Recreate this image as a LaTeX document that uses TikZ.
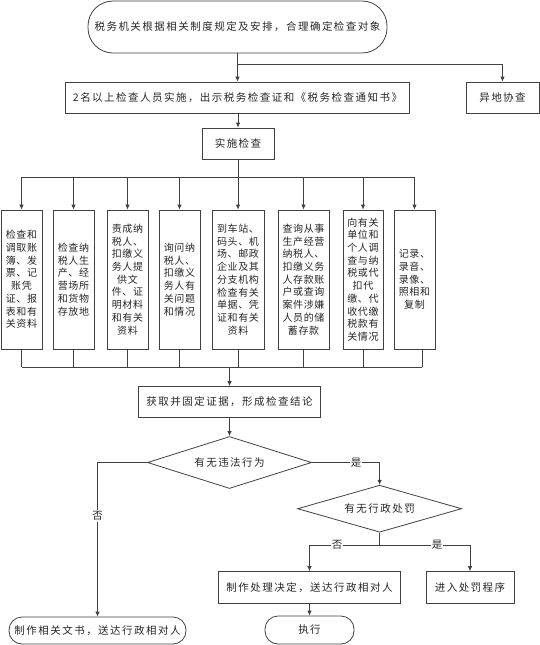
\documentclass[tikz,border=0pt]{standalone}
\usepackage{fontspec}
\setmainfont{Noto Sans CJK SC}
\newfontfamily\mtf[LetterSpace=14]{Noto Sans CJK SC}
\newfontfamily\btf[LetterSpace=6]{Noto Sans CJK SC}
\usetikzlibrary{arrows.meta,shapes.geometric}
\begin{document}
\begin{tikzpicture}[x=1pt,y=-1pt,
 line/.style={draw=black!75, line width=0.8pt},
 arr/.style={line, -{Latex[length=5pt,width=4.5pt]}},
 box/.style={draw=black!75, line width=0.8pt, text=black!85, inner sep=0pt, font=\mtf\fontsize{10.5}{13}\selectfont},
 vbox/.style={box, minimum height=139pt, align=center, font=\btf\fontsize{10}{12.7}\selectfont},
 term/.style={box, rounded corners=13pt},
 dia/.style={box, shape=diamond, aspect=3},
 lab/.style={fill=white, inner sep=1pt, text=black!85, font=\mtf\fontsize{10.5}{13}\selectfont}]
\useasboundingbox (0,0) rectangle (540,645);
% nodes
\node[term, rounded corners=25pt, minimum width=299pt, minimum height=52pt] (top) at (237.5,27) {税务机关根据相关制度规定及安排，合理确定检查对象};
\node[box, minimum width=344pt, minimum height=31pt] (n2) at (237.5,97.5) {2名以上检查人员实施，出示税务检查证和《税务检查通知书》};
\node[box, minimum width=73pt, minimum height=31pt] (yd) at (502.5,97.5) {异地协查};
\node[box, minimum width=72pt, minimum height=31pt] (ss) at (238,143.5) {实施检查};
\node[vbox, minimum width=41pt] (b1) at (21.5,279.5) {检查和\\调取账\\簿、发\\票、记\\账凭\\证、报\\表和有\\关资料};
\node[vbox, minimum width=41pt] (b2) at (73.5,279.5) {检查纳\\税人生\\产、经\\营场所\\和货物\\存放地};
\node[vbox, minimum width=41pt] (b3) at (127.5,279.5) {责成纳\\税人、\\扣缴义\\务人提\\供文\\件、证\\明材料\\和有关\\资料};
\node[vbox, minimum width=41pt] (b4) at (179.5,279.5) {询问纳\\税人、\\扣缴义\\务人有\\关问题\\和情况};
\node[vbox, minimum width=52pt] (b5) at (238,279.5) {到车站、\\码头、机\\场、邮政\\企业及其\\分支机构\\检查有关\\单据、凭\\证和有关\\资料};
\node[vbox, minimum width=51pt] (b6) at (303.5,279.5) {查询从事\\生产经营\\纳税人、\\扣缴义务\\人存款账\\户或查询\\案件涉嫌\\人员的储\\蓄存款};
\node[vbox, minimum width=40pt] (b7) at (363,279.5) {向有关\\单位和\\个人调\\查与纳\\税或代\\扣代\\缴、代\\收代缴\\税款有\\关情况};
\node[vbox, minimum width=41pt] (b8) at (414.5,279.5) {记录、\\录音、\\录像、\\照相和\\复制};
\node[box, minimum width=182.5pt, minimum height=31pt] (hq) at (229.5,402) {获取并固定证据，形成检查结论};
\node[dia, minimum width=164pt, minimum height=52pt] (d1) at (229.5,462.5) {有无违法行为};
\node[dia, minimum width=164pt, minimum height=47pt] (d2) at (379.6,508.7) {有无行政处罚};
\node[box, minimum width=182pt, minimum height=32pt] (cz) at (309.5,587.6) {制作处理决定，送达行政相对人};
\node[box, minimum width=88pt, minimum height=32pt] (cf) at (470,587.6) {进入处罚程序};
\node[term, minimum width=89pt, minimum height=28pt] (zx) at (309.5,630) {执行};
\node[term, minimum width=177pt, minimum height=27pt] (wt) at (97.5,630.5) {制作相关文书，送达行政相对人};
% coordinates
\coordinate (br) at (0,64);
\coordinate (bus1) at (0,177);
\coordinate (bus2) at (0,367);
\coordinate (bus3) at (0,545);
% connectors
\draw[arr] (top.south) -- (n2.north);
\draw[arr] (top.south |- br) -| (yd.north);
\draw[arr] (ss.north |- n2.south) -- (ss.north);
\draw[line] (ss.south) -- (ss.south |- bus1);
\draw[line] (b1.north |- bus1) -- (b8.north |- bus1);
\foreach \b in {b1,b2,b3,b4,b5,b6,b7,b8} \draw[arr] (\b.north |- bus1) -- (\b.north);
\foreach \b in {b1,b2,b3,b4,b5,b6,b7} \draw[line] (\b.south) -- (\b.south |- bus2);
\draw[line] ([xshift=7.5pt]b8.south) -- ([xshift=7.5pt]b8.south |- bus2);
\draw[line] (b1.south |- bus2) -- ([xshift=7.5pt]b8.south |- bus2);
\draw[arr] (hq.north |- bus2) -- (hq.north);
\draw[arr] (hq.south) -- (d1.north);
\draw[arr] (d1.east) -| (d2.north);
\draw[arr] (d1.west) -| (wt.north);
\draw[line] (d2.south) -- (d2.south |- bus3);
\draw[arr] (d2.south |- bus3) -| (cz.north);
\draw[arr] (d2.south |- bus3) -| (cf.north);
\draw[arr] (cz.south) -- (zx.north);
% labels
\node[lab] (l1) at (356,462.5) {是};
\node[lab] (l2) at (97.5,516) {否};
\node[lab] (l3) at (337,545) {否};
\node[lab] (l4) at (437,545) {是};
\end{tikzpicture}
\end{document}
